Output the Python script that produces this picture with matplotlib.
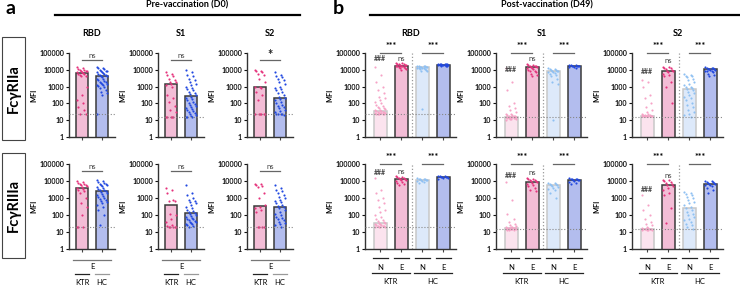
import matplotlib
matplotlib.use("Agg")
import matplotlib.pyplot as plt
import matplotlib.transforms as mtransforms
import numpy as np

plt.rcParams['font.family'] = ['Lato', 'DejaVu Sans']
plt.rcParams['font.weight'] = 'bold'

W, H = 740, 287

antigens = ["RBD", "S1", "S2"]
receptors = ["FcγRIIa", "FcγRIIIa"]

# ---- panel a: pre-vaccination (D0), KTR vs HC ----
a_bars = {
    ("FcγRIIa", "RBD"): [6500, 4200],
    ("FcγRIIa", "S1"): [1400, 270],
    ("FcγRIIa", "S2"): [950, 200],
    ("FcγRIIIa", "RBD"): [3800, 2500],
    ("FcγRIIIa", "S1"): [380, 130],
    ("FcγRIIIa", "S2"): [350, 300],
}
a_lod = {
    ("FcγRIIa", "RBD"): 25, ("FcγRIIa", "S1"): 15, ("FcγRIIa", "S2"): 22,
    ("FcγRIIIa", "RBD"): 20, ("FcγRIIIa", "S1"): 20, ("FcγRIIIa", "S2"): 20,
}
a_sig = {
    ("FcγRIIa", "RBD"): "ns", ("FcγRIIa", "S1"): "ns", ("FcγRIIa", "S2"): "*",
    ("FcγRIIIa", "RBD"): "ns", ("FcγRIIIa", "S1"): "ns", ("FcγRIIIa", "S2"): "ns",
}
a_ktr = {
    ("FcγRIIa", "RBD"): [15000, 12000, 11000, 10000, 9500, 9000, 8500, 8000, 7500, 7000, 6500, 6000,
                         5500, 5000, 4500, 4000, 1000, 300, 150, 100, 60, 40, 25, 25],
    ("FcγRIIa", "S1"): [7000, 6000, 5000, 4000, 3000, 2500, 2000, 1800, 1500, 1200, 1000, 300, 200,
                        120, 70, 40, 30, 16, 16, 16, 16, 15],
    ("FcγRIIa", "S2"): [10000, 9000, 8000, 7000, 6000, 5000, 3000, 2000, 1000, 900, 800, 500, 300,
                        150, 22, 22, 22, 22, 22, 22],
    ("FcγRIIIa", "RBD"): [10000, 9000, 8000, 7000, 6500, 6000, 5500, 5000, 4500, 4000, 3500, 3000,
                          2500, 2000, 1000, 500, 300, 100, 20, 20, 20],
    ("FcγRIIIa", "S1"): [3800, 3000, 2000, 800, 700, 700, 120, 100, 60, 40, 25, 22, 20, 20, 20, 20, 20],
    ("FcγRIIIa", "S2"): [7000, 6500, 6000, 5000, 4500, 2000, 1000, 400, 300, 250, 200, 150, 20, 20, 20, 20],
}
a_hc = {
    ("FcγRIIa", "RBD"): [15000, 13000, 12000, 11000, 10000, 9000, 8500, 8000, 7500, 7000, 6500, 6000,
                         5500, 5000, 5000, 4500, 4000, 3500, 3000, 2800, 2500, 2200, 2000, 1800, 1600,
                         1500, 1400, 1300, 1200, 1100, 1000, 800, 600, 500, 400, 300, 25],
    ("FcγRIIa", "S1"): [10000, 7000, 5000, 4000, 3000, 2500, 2000, 1500, 1200, 1000, 800, 700, 600,
                        500, 400, 350, 300, 250, 200, 180, 150, 120, 100, 90, 80, 70, 60, 50, 45, 40,
                        35, 30, 28, 25, 20, 18, 16, 15, 15],
    ("FcγRIIa", "S2"): [7000, 5000, 4000, 3500, 3000, 2500, 2000, 1500, 1000, 800, 700, 600, 500, 400,
                        300, 250, 200, 180, 150, 120, 100, 80, 70, 60, 50, 40, 35, 30, 25, 22, 22, 22, 20],
    ("FcγRIIIa", "RBD"): [12000, 10000, 9000, 8000, 7000, 6500, 6000, 5500, 5000, 4500, 4000, 3500,
                          3000, 2800, 2500, 2200, 2000, 1800, 1600, 1400, 1200, 1000, 900, 800, 700,
                          600, 500, 400, 300, 200, 100, 25],
    ("FcγRIIIa", "S1"): [6000, 2000, 1500, 1000, 800, 700, 600, 500, 400, 300, 250, 200, 180, 150, 130,
                         120, 100, 90, 80, 70, 60, 55, 50, 45, 40, 40, 35, 30, 28, 25, 22, 20],
    ("FcγRIIIa", "S2"): [6000, 4000, 3000, 2500, 2000, 1500, 1200, 1000, 800, 700, 600, 500, 400, 350,
                         300, 250, 200, 150, 120, 100, 80, 70, 60, 50, 40, 35, 30, 25, 20],
}

# ---- panel b: post-vaccination (D49), KTR-N, KTR-E, HC-N, HC-E ----
b_bars = {
    ("FcγRIIa", "RBD"): [35, 18000, 15000, 20000],
    ("FcγRIIa", "S1"): [15, 14000, 9000, 17000],
    ("FcγRIIa", "S2"): [18, 8500, 750, 11000],
    ("FcγRIIIa", "RBD"): [32, 14000, 12000, 17000],
    ("FcγRIIIa", "S1"): [17, 9000, 6000, 12000],
    ("FcγRIIIa", "S2"): [15, 6000, 250, 7000],
}
b_lod = {
    ("FcγRIIa", "RBD"): 25, ("FcγRIIa", "S1"): 15, ("FcγRIIa", "S2"): 15,
    ("FcγRIIIa", "RBD"): 20, ("FcγRIIIa", "S1"): 15, ("FcγRIIIa", "S2"): 15,
}
# y positions of the "###" and "ns" labels
b_hash_y = {
    ("FcγRIIa", "RBD"): 44000, ("FcγRIIa", "S1"): 10000, ("FcγRIIa", "S2"): 7500,
    ("FcγRIIIa", "RBD"): 30000, ("FcγRIIIa", "S1"): 22000, ("FcγRIIIa", "S2"): 3000,
}
b_ns_y = {
    ("FcγRIIa", "RBD"): 50000, ("FcγRIIa", "S1"): 50000, ("FcγRIIa", "S2"): 38000,
    ("FcγRIIIa", "RBD"): 34000, ("FcγRIIIa", "S1"): 30000, ("FcγRIIIa", "S2"): 22000,
}
b_dots = {
    ("FcγRIIa", "RBD"): [
        [15000, 5000, 2000, 1000, 600, 400, 250, 200, 150, 120, 100, 80, 70, 60, 55, 50, 45, 40, 40, 35,
         35, 32, 30, 30, 28, 28, 27, 26, 26, 25, 25, 25, 25, 25],
        [25000, 24000, 23000, 22000, 21000, 20000, 19500, 19000, 18000, 17500, 17000, 16000, 15000,
         14000, 13000, 12000, 11000, 10000],
        [18000, 17000, 16500, 16000, 15500, 15000, 14500, 14000, 13500, 13000, 12500, 12000, 11500,
         11000, 10000, 9000, 8000, 45],
        [23000, 22500, 22000, 21500, 21000, 21000, 20500, 20000, 20000, 19500, 19000, 18500, 18000,
         17500, 17000]],
    ("FcγRIIa", "S1"): [
        [13000, 1800, 600, 100, 70, 50, 40, 30, 25, 22, 20, 20, 18, 18, 17, 16, 16, 15, 15, 15, 14, 14,
         13, 13, 12, 12, 12, 11],
        [22000, 20000, 19000, 18000, 17000, 16000, 15000, 14000, 13000, 12000, 11000, 10000, 9000, 8000,
         7000, 6000, 5000, 4000],
        [12000, 11000, 10500, 10000, 9500, 9000, 8500, 8000, 7500, 7000, 6500, 6000, 5000, 4000, 3000,
         2000, 1500, 10],
        [20000, 19000, 18500, 18000, 17500, 17000, 16500, 16000, 15000, 14000, 13000]],
    ("FcγRIIa", "S2"): [
        [2500, 2000, 1000, 300, 200, 100, 60, 40, 30, 25, 22, 20, 20, 20, 19, 19, 18, 18, 18, 18, 18,
         17, 17],
        [15000, 14000, 13000, 12000, 11000, 10000, 9000, 8000, 7000, 6000, 5000, 4000, 2000, 1000, 100],
        [6000, 5000, 4500, 4000, 3500, 3000, 2500, 2000, 1500, 1200, 1000, 900, 800, 700, 600, 500,
         400, 300, 250, 200, 150, 100, 80, 60, 40, 30, 25, 20, 15],
        [14000, 13000, 12500, 12000, 11500, 11000, 10500, 10000, 9500, 9000, 8500, 8000, 7000, 6000,
         5000, 4000]],
    ("FcγRIIIa", "RBD"): [
        [15000, 3000, 2000, 1000, 800, 500, 300, 200, 150, 100, 80, 60, 50, 45, 40, 35, 32, 30, 28, 26,
         25, 24, 22, 22, 21, 20, 20, 20],
        [20000, 18000, 17000, 16000, 15000, 14000, 13000, 12000, 11000, 10000, 9000, 8000, 7000, 6000],
        [15000, 14000, 13500, 13000, 12500, 12000, 11500, 11000, 10500, 10000, 9000, 8000],
        [20000, 19000, 18500, 18000, 17500, 17000, 16500, 16000, 15000, 14000]],
    ("FcγRIIIa", "S1"): [
        [9000, 800, 120, 60, 40, 30, 25, 22, 20, 20, 19, 18, 18, 17, 17, 16, 16, 15, 15, 15, 14, 14, 13],
        [15000, 14000, 13000, 12000, 11000, 10000, 9500, 9000, 8000, 7000, 6000, 5000, 4000, 3000, 2500],
        [8000, 7500, 7000, 6500, 6000, 5500, 5000, 4500, 4000, 3500, 3000, 2000, 1000],
        [15000, 14000, 13500, 13000, 12500, 12000, 11500, 11000, 10000, 9000, 8000, 7000]],
    ("FcγRIIIa", "S2"): [
        [1500, 400, 200, 100, 60, 40, 30, 25, 20, 18, 17, 16, 16, 15, 15, 15, 14, 14, 13, 13],
        [12000, 11000, 10000, 9000, 8000, 7000, 6000, 5000, 4000, 3000, 2000, 1500, 250, 35],
        [2200, 2000, 1800, 1500, 1200, 1000, 800, 600, 500, 400, 300, 250, 200, 150, 120, 100, 80, 60,
         50, 40, 30, 25, 20, 15],
        [10000, 9500, 9000, 8500, 8000, 7500, 7000, 6500, 6000, 5500, 5000, 4000, 3000, 2000]],
}

# styles: (bar fill, bar edge, dot colour)
KTR_E = ("#f3bdd6", "#3a3a3a", "#e5327c")
HC_E = ("#b3bdee", "#3a3a3a", "#2148e0")
KTR_N = ("#fbe3ee", "#c8c8c8", "#f6a3c6")
HC_N = ("#dde9fa", "#c8c8c8", "#8fc0f2")


def px_axes(fig, x0, x1, ytop, ybot):
    return fig.add_axes([x0 / W, 1 - ybot / H, (x1 - x0) / W, (ybot - ytop) / H])


def spread(n):
    # simple spread of dots across bar width
    idx = np.arange(n)
    return ((idx * 5) % 9 - 4) / 4.0 * 0.24


def style_axes(ax, xlim, lod):
    ax.set_yscale('log')
    ax.set_ylim(1, 100000)
    ax.set_xlim(*xlim)
    ax.set_yticks([1, 10, 100, 1000, 10000, 100000])
    ax.set_yticklabels(["1", "10", "100", "1000", "10000", "100000"], fontweight='bold')
    ax.minorticks_off()
    ax.tick_params(axis='y', labelsize=5.2, length=2.5, width=0.8, pad=1, colors='#111111')
    ax.tick_params(axis='x', length=2.5, width=0.8, labelbottom=False, colors='#444444')
    for s in ['top', 'right']:
        ax.spines[s].set_visible(False)
    for s in ['left', 'bottom']:
        ax.spines[s].set_linewidth(1.0)
        ax.spines[s].set_color('#333333')
    ax.axhline(lod, color='#888888', ls=':', lw=0.8, zorder=5, clip_on=False)
    ax.set_ylabel("MFI", fontsize=5.2, fontweight='bold', labelpad=1.5)


def draw_groups(ax, heights, dots, styles):
    xs = np.arange(len(heights))
    for x, h, d, st in zip(xs, heights, dots, styles):
        ax.bar(x, h, width=0.62, color=st[0], edgecolor=st[1], linewidth=1.1, zorder=2)
        vals = np.array(d, dtype=float)
        ax.scatter(x + spread(len(vals)), vals, s=2.4, color=st[2], zorder=3, linewidths=0)
    ax.set_xticks(xs)


fig = plt.figure(figsize=(W / 100, H / 100), dpi=100)

rows = {"FcγRIIa": (53, 137), "FcγRIIIa": (164, 249)}
a_x = {"RBD": (69, 115), "S1": (158, 204), "S2": (247, 293)}
b_x = {"RBD": (365, 456), "S1": (496, 587), "S2": (632, 723)}

for rec in receptors:
    ytop, ybot = rows[rec]
    for ag in antigens:
        key = (rec, ag)
        # panel a
        ax = px_axes(fig, a_x[ag][0], a_x[ag][1], ytop, ybot)
        draw_groups(ax, a_bars[key], [a_ktr[key], a_hc[key]], [KTR_E, HC_E])
        style_axes(ax, (-0.65, 1.65), a_lod[key])
        tr = mtransforms.blended_transform_factory(ax.transData, ax.transAxes)
        ax.plot([0, 1], [0.915, 0.915], color='#666666', lw=0.9, transform=tr, clip_on=False)
        if a_sig[key] == "ns":
            ax.text(0.5, 0.93, "ns", transform=tr, ha='center', va='bottom',
                    fontsize=5.5, color='#444444', fontweight='normal')
        else:
            ax.text(0.5, 0.9, a_sig[key], transform=tr, ha='center', va='bottom',
                    fontsize=9, color='#222222', fontweight='bold')
        if rec == "FcγRIIa":
            ax.set_title(ag, fontsize=6.5, fontweight='bold', pad=12)
        else:
            ax.plot([-0.45, 1.45], [-0.13, -0.13], color='#777777', lw=0.9, transform=tr, clip_on=False)
            ax.text(0.5, -0.21, "E", transform=tr, ha='center', va='center', fontsize=5.5,
                    fontweight='normal')
            ax.plot([-0.35, 0.35], [-0.295, -0.295], color='#222222', lw=0.9, transform=tr, clip_on=False)
            ax.plot([0.65, 1.35], [-0.295, -0.295], color='#999999', lw=0.9, transform=tr, clip_on=False)
            ax.text(0, -0.39, "KTR", transform=tr, ha='center', va='center', fontsize=5.5,
                    fontweight='normal')
            ax.text(1, -0.39, "HC", transform=tr, ha='center', va='center', fontsize=5.5,
                    fontweight='normal')

        # panel b
        ax = px_axes(fig, b_x[ag][0], b_x[ag][1], ytop, ybot)
        draw_groups(ax, b_bars[key], b_dots[key], [KTR_N, KTR_E, HC_N, HC_E])
        style_axes(ax, (-0.72, 3.6), b_lod[key])
        ax.axvline(1.5, color='#999999', ls=':', lw=0.9, zorder=1)
        tr = mtransforms.blended_transform_factory(ax.transData, ax.transAxes)
        for x0 in [0, 2]:
            ax.plot([x0, x0 + 1], [1.005, 1.005], color='#666666', lw=0.9, transform=tr, clip_on=False)
            ax.text(x0 + 0.5, 1.02, "***", transform=tr, ha='center', va='bottom', fontsize=6.5)
        ax.text(0, b_hash_y[key], "###", ha='center', va='center', fontsize=5, color='#444444')
        ax.text(1, b_ns_y[key], "ns", ha='center', va='center', fontsize=5.5, color='#444444',
                fontweight='normal')
        if rec == "FcγRIIa":
            ax.set_title(ag, fontsize=6.5, fontweight='bold', pad=12)
        else:
            for i, lab in enumerate(["N", "E", "N", "E"]):
                ax.plot([i - 0.35, i + 0.35], [-0.105, -0.105], color='#222222', lw=0.9,
                        transform=tr, clip_on=False)
                ax.text(i, -0.215, lab, transform=tr, ha='center', va='center', fontsize=5.5,
                        fontweight='normal')
            for i, lab in [(0, "KTR"), (2, "HC")]:
                ax.plot([i - 0.4, i + 1.4], [-0.285, -0.285], color='#222222', lw=0.9,
                        transform=tr, clip_on=False)
                ax.text(i + 0.5, -0.38, lab, transform=tr, ha='center', va='center', fontsize=5.5,
                        fontweight='normal')

# headers
fig.text(5 / W, 1 - 9 / H, "a", fontsize=14, fontweight='bold', va='center')
fig.text(333 / W, 1 - 9 / H, "b", fontsize=14, fontweight='bold', va='center')
fig.text(187 / W, 1 - 5 / H, "Pre-vaccination (D0)", fontsize=6.5, fontweight='bold', ha='center', va='center')
fig.text(547 / W, 1 - 5 / H, "Post-vaccination (D49)", fontsize=6.5, fontweight='bold', ha='center', va='center')
fig.add_artist(plt.Line2D([55 / W, 300 / W], [1 - 15 / H, 1 - 15 / H], color='black', lw=1.6))
fig.add_artist(plt.Line2D([370 / W, 740 / W], [1 - 15 / H, 1 - 15 / H], color='black', lw=1.6))

# row label boxes
for rec, (y0, y1) in zip(receptors, [(37, 140), (153, 258)]):
    fig.add_artist(plt.Rectangle((2 / W, 1 - y1 / H), 23 / W, (y1 - y0) / H, fill=False,
                                 edgecolor='#444444', lw=0.8))
    fig.text(13.5 / W, 1 - (y0 + y1) / 2 / H, rec, rotation=90, fontsize=10.5, fontweight='bold',
             ha='center', va='center')

fig.savefig("out.png", dpi=100)
